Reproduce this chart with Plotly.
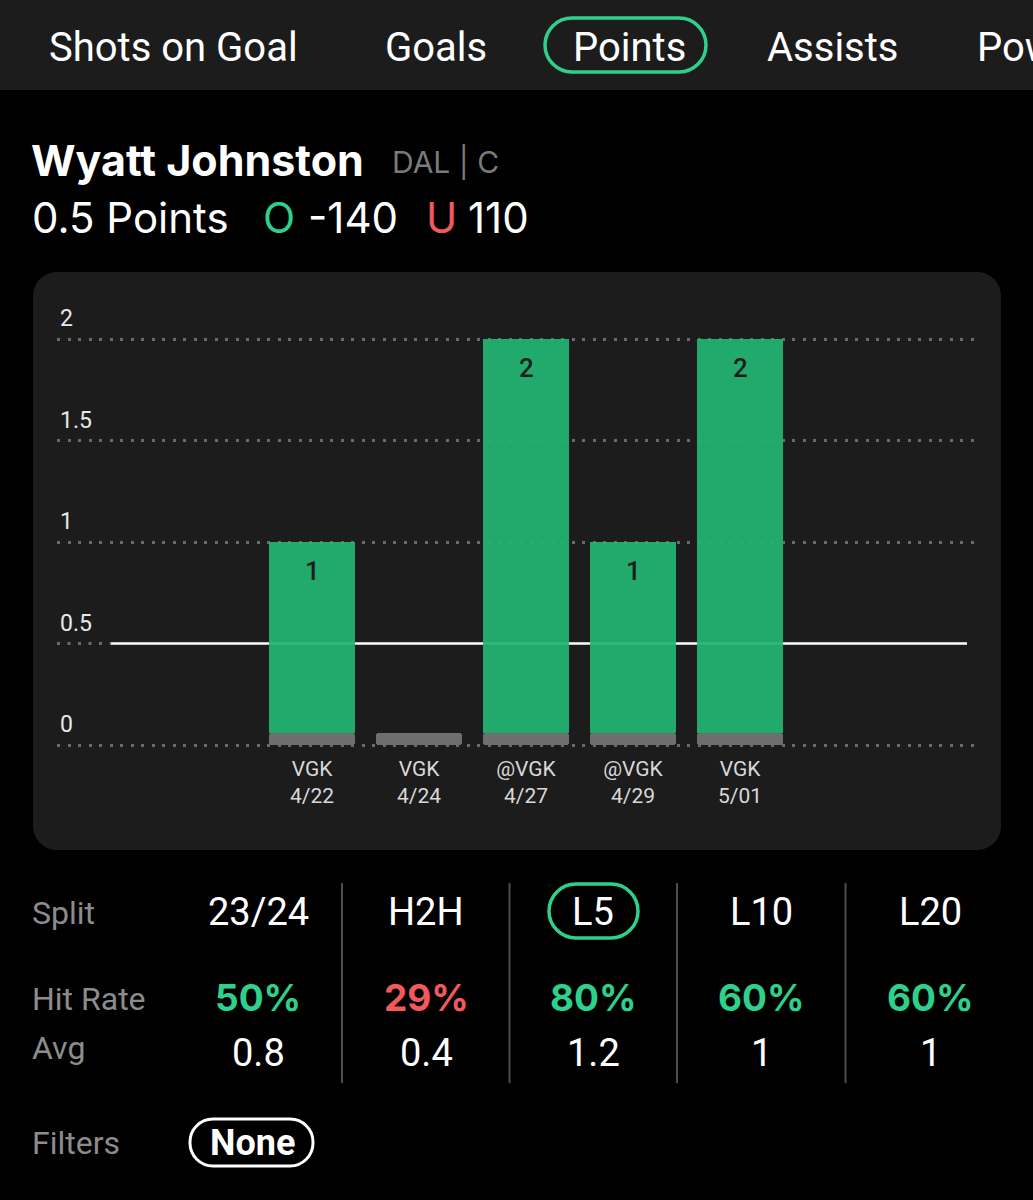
import plotly.graph_objects as go

W, H = 1033, 1200

# ---------------- data ----------------
OPPONENTS = ["VGK", "VGK", "@VGK", "@VGK", "VGK"]
DATES = ["4/22", "4/24", "4/27", "4/29", "5/01"]
POINTS = [1, 0, 2, 1, 2]
LINE = 0.5
Y_TICKS = [0, 0.5, 1, 1.5, 2]
Y_TICK_TEXT = ["0", "0.5", "1", "1.5", "2"]

PLAYER = "Wyatt Johnston"
TEAM_POS = "DAL | C"
STAT = "Points"
OVER_ODDS = "-140"
UNDER_ODDS = "110"

TABS = ["Shots on Goal", "Goals", "Points", "Assists", "Power Play Points"]
ACTIVE_TAB = "Points"

SPLITS = ["23/24", "H2H", "L5", "L10", "L20"]
ACTIVE_SPLIT = "L5"
HIT_RATES = [50, 29, 80, 60, 60]
AVGS = ["0.8", "0.4", "1.2", "1", "1"]
FILTER = "None"

# ---------------- styles ----------------
GREEN = "#22b573"
GREEN_TXT = "#2ed08b"
RED_TXT = "#f05a5a"
GRAY_BAR = "#6e6e6e"
PANEL = "#1c1c1c"
LABEL_GRAY = "#8c8c8c"
GRID = "#6a6a6a"
GRID_DASH = "3px,7.5px"
FONT = "Roboto"
FONT_T = "Inter"


def px(x):
    return x / W


def py(y):
    return 1 - y / H


def rrect(x0, y0, x1, y1, r):
    k = 0.5523 * r

    def p(x, y):
        return f"{px(x):.5f},{py(y):.5f}"

    return (
        f"M {p(x0 + r, y0)} L {p(x1 - r, y0)} "
        f"C {p(x1 - r + k, y0)} {p(x1, y0 + r - k)} {p(x1, y0 + r)} "
        f"L {p(x1, y1 - r)} "
        f"C {p(x1, y1 - r + k)} {p(x1 - r + k, y1)} {p(x1 - r, y1)} "
        f"L {p(x0 + r, y1)} "
        f"C {p(x0 + r - k, y1)} {p(x0, y1 - r + k)} {p(x0, y1 - r)} "
        f"L {p(x0, y0 + r)} "
        f"C {p(x0, y0 + r - k)} {p(x0 + r - k, y0)} {p(x0 + r, y0)} Z"
    )


def text(x, y, t, size, color="white", anchor="left", family=FONT, weight=400):
    return dict(x=px(x), y=py(y), xref="paper", yref="paper", xanchor=anchor, yanchor="middle",
                text=t, showarrow=False,
                font=dict(family=family, size=size, color=color, weight=weight))


fig = go.Figure()

idx = list(range(len(POINTS)))
BASE = 0.06
fig.add_bar(
    x=idx, y=[BASE] * len(POINTS), base=0, width=0.8,
    marker=dict(color=GRAY_BAR, line=dict(width=0), cornerradius=3),
    hoverinfo="skip",
)
fig.add_bar(
    x=idx, y=[(v - BASE) if v > 0 else None for v in POINTS], base=BASE, width=0.8,
    marker=dict(color=GREEN, line=dict(width=0), opacity=0.93),
    hoverinfo="skip",
)

annotations = []
for i, v in enumerate(POINTS):
    if v > 0:
        annotations.append(dict(
            x=i, y=v, xref="x", yref="y", yshift=-29, text=str(v), showarrow=False,
            font=dict(family=FONT, size=26, color="#1d1d1d", weight=500),
        ))

# axis geometry
Y0_PX, Y2_PX = 745, 339
UNIT = (Y0_PX - Y2_PX) / 2
YR = [-0.2, 2.3]
y_bot = Y0_PX - YR[0] * UNIT
y_top = Y0_PX - YR[1] * UNIT
XC0, XSTEP = 312, 107
XL, XR = 57, 975
XRANGE = [-(XC0 - XL) / XSTEP, (XR - XC0) / XSTEP]
X_AXIS_PX = 754
LINE_X0, LINE_X1 = 111, 967

shapes = []
# top bar
shapes.append(dict(type="rect", xref="paper", yref="paper", x0=0, x1=1, y0=py(90), y1=1,
                   fillcolor=PANEL, line=dict(width=0), layer="below"))
# chart panel
shapes.append(dict(type="path", xref="paper", yref="paper", path=rrect(33, 272, 1001, 850, 24),
                   fillcolor=PANEL, line=dict(width=0), layer="below"))
# dotted stub of the line's gridline left of the solid threshold line
shapes.append(dict(type="line", xref="paper", yref="y", x0=px(XL), x1=px(LINE_X0), y0=LINE, y1=LINE,
                   line=dict(color=GRID, width=3, dash=GRID_DASH), layer="below"))
# threshold line
shapes.append(dict(type="line", xref="paper", yref="y", x0=px(LINE_X0), x1=px(LINE_X1), y0=LINE, y1=LINE,
                   line=dict(color="white", width=2.5), layer="below"))

# tabs
TAB_X = [47, 383, 571, 765, 975]
for t, x in zip(TABS, TAB_X):
    annotations.append(text(x, 47, t, 40))
    if t == ACTIVE_TAB:
        shapes.append(dict(type="path", xref="paper", yref="paper", path=rrect(x - 26, 18, x + 135, 72, 27),
                           fillcolor="rgba(0,0,0,0)", line=dict(color=GREEN_TXT, width=3.5)))

# title lines
annotations += [
    text(29, 160, PLAYER, 43, family=FONT_T, weight=700),
    text(390, 162, TEAM_POS, 30, color="#7a7a7a", family=FONT_T),
    text(30, 217, f"{LINE} {STAT}", 42, family=FONT_T),
    text(261, 217, "O", 42, color=GREEN_TXT, family=FONT_T),
    text(306, 217, OVER_ODDS, 42, family=FONT_T),
    text(424, 217, "U", 42, color=RED_TXT, family=FONT_T),
    text(466, 217, UNDER_ODDS, 42, family=FONT_T),
]

# stats table
COL_X = [258, 426, 593, 761, 930]
for lbl, y in [("Split", 913), ("Hit Rate", 999), ("Avg", 1048)]:
    annotations.append(text(30, y, lbl, 32, color=LABEL_GRAY))
for s, hr, av, cx in zip(SPLITS, HIT_RATES, AVGS, COL_X):
    annotations.append(text(cx, 912, s, 38, anchor="center"))
    annotations.append(text(cx, 997, f"{hr}%", 37, anchor="center", family=FONT_T, weight=700,
                            color=GREEN_TXT if hr >= 50 else RED_TXT))
    annotations.append(text(cx, 1053, av, 38, anchor="center"))
    if s == ACTIVE_SPLIT:
        shapes.append(dict(type="path", xref="paper", yref="paper",
                           path=rrect(cx - 44, 884, cx + 45, 938, 27),
                           fillcolor="rgba(0,0,0,0)", line=dict(color=GREEN_TXT, width=3.5)))
for a, b in zip(COL_X[:-1], COL_X[1:]):
    xm = (a + b) / 2
    shapes.append(dict(type="line", xref="paper", yref="paper", x0=px(xm), x1=px(xm),
                       y0=py(883), y1=py(1083), line=dict(color="#4d4d4d", width=2)))

# filters
annotations.append(text(30, 1143, "Filters", 32, color=LABEL_GRAY))
annotations.append(text(252, 1143, FILTER, 36, anchor="center", weight=700))
shapes.append(dict(type="path", xref="paper", yref="paper", path=rrect(190, 1119, 313, 1166, 23),
                   fillcolor="rgba(0,0,0,0)", line=dict(color="white", width=3)))

fig.update_layout(
    width=W, height=H, margin=dict(l=0, r=0, t=0, b=0),
    paper_bgcolor="black", plot_bgcolor="rgba(0,0,0,0)",
    barmode="overlay", showlegend=False, bargap=0,
    shapes=shapes, annotations=annotations,
    xaxis=dict(domain=[px(XL), px(XR)], range=XRANGE, tickvals=idx,
               ticktext=[f"{o}<br>{d}" for o, d in zip(OPPONENTS, DATES)],
               anchor="free", position=py(X_AXIS_PX),
               showgrid=False, zeroline=False, showline=False, ticks="",
               tickfont=dict(family=FONT, size=21, color="#d8d8d8"), fixedrange=True),
    yaxis=dict(domain=[py(y_bot), py(y_top)], range=YR, tickvals=Y_TICKS, ticktext=Y_TICK_TEXT,
               showgrid=False, zeroline=False, showline=False, ticks="", ticklabelposition="inside",
               ticklabelshift=-21, tickfont=dict(family=FONT, size=23, color="#e8e8e8"),
               minor=dict(tickmode="array", tickvals=[t for t in Y_TICKS if t != LINE], ticks="",
                          showgrid=True, gridcolor=GRID, gridwidth=3, griddash=GRID_DASH),
               fixedrange=True),
)

fig.write_html("out.html", post_script="document.body.style.margin='0';",
               config={"displayModeBar": False})
